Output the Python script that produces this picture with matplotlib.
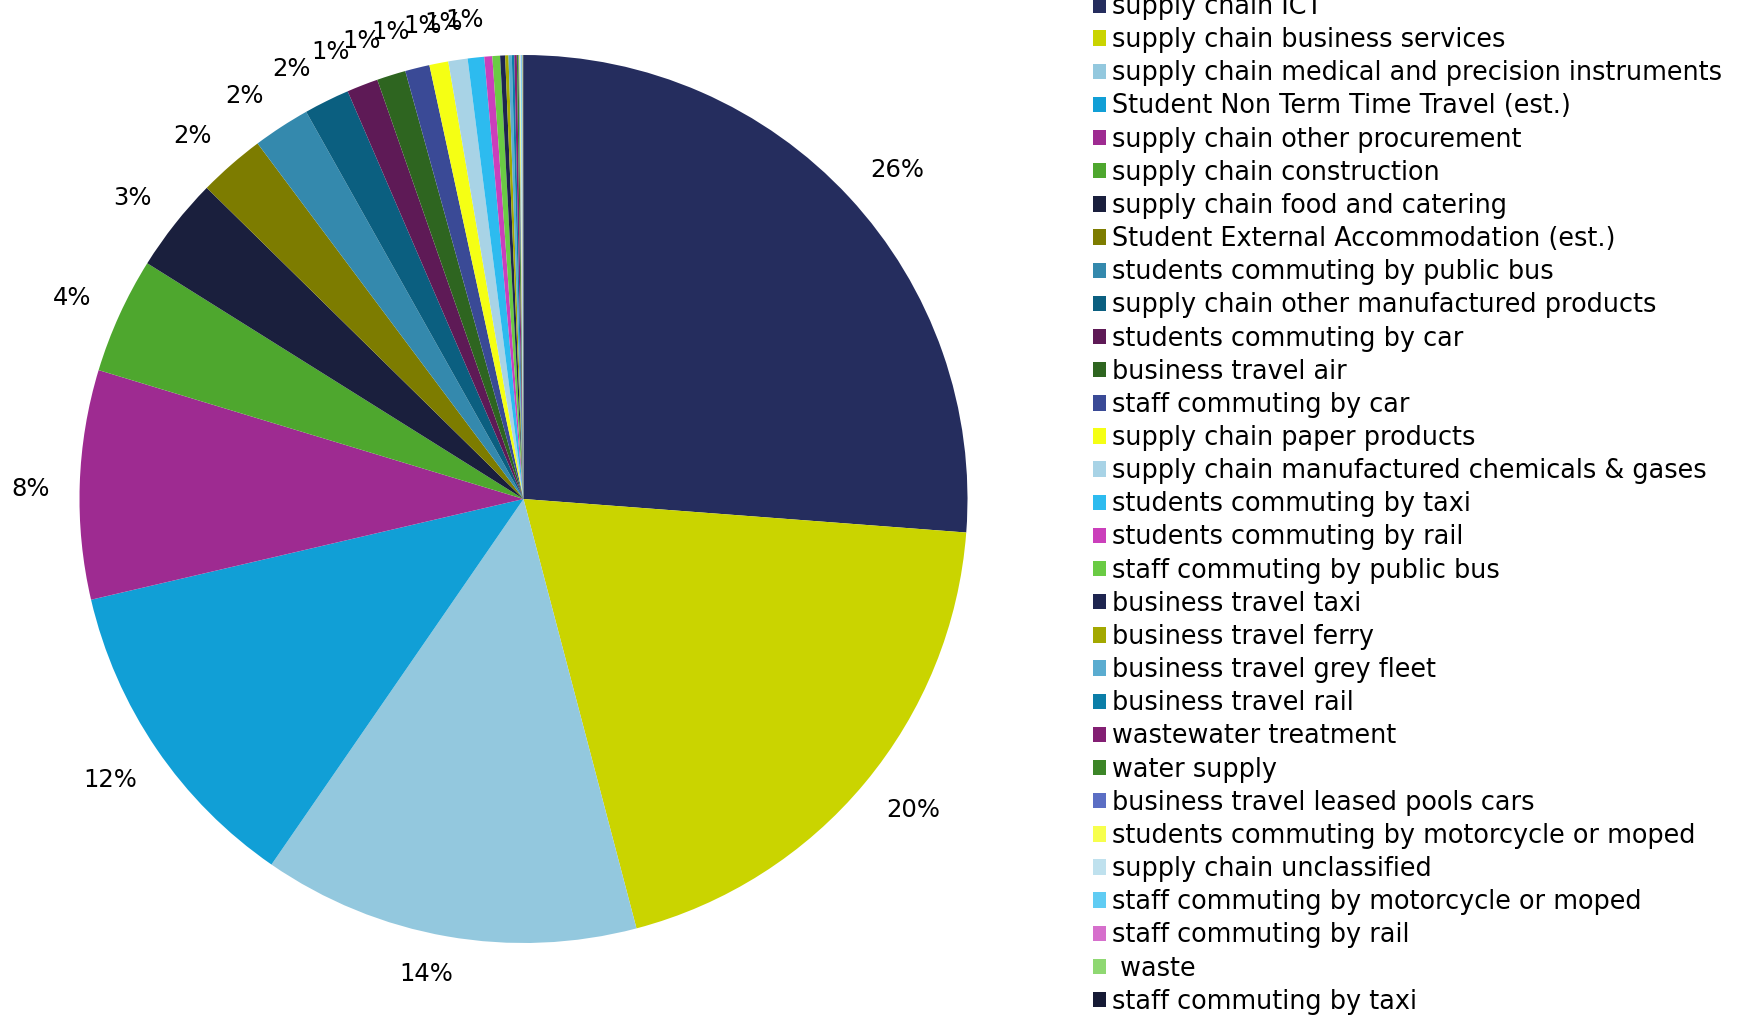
import numpy as np
import matplotlib
matplotlib.use("Agg")
import matplotlib.pyplot as plt

# Emission sources (share of total, %)
categories = [
    "supply chain ICT",
    "supply chain business services",
    "supply chain medical and precision instruments",
    "Student Non Term Time Travel (est.)",
    "supply chain other procurement",
    "supply chain construction",
    "supply chain food and catering",
    "Student External Accommodation (est.)",
    "students commuting by public bus",
    "supply chain other manufactured products",
    "students commuting by car",
    "business travel air",
    "staff commuting by car",
    "supply chain paper products",
    "supply chain manufactured chemicals & gases",
    "students commuting by taxi",
    "students commuting by rail",
    "staff commuting by public bus",
    "business travel taxi",
    "business travel ferry",
    "business travel grey fleet",
    "business travel rail",
    "wastewater treatment",
    "water supply",
    "business travel leased pools cars",
    "students commuting by motorcycle or moped",
    "supply chain unclassified",
    "staff commuting by motorcycle or moped",
    "staff commuting by rail",
    " waste",
    "staff commuting by taxi",
]
values = [26.2, 19.7, 13.7, 11.75, 8.33, 4.22, 3.45, 2.42, 2.08, 1.66,
          1.14, 1.05, 0.89, 0.69, 0.70, 0.60, 0.29, 0.28, 0.18, 0.12,
          0.12, 0.09, 0.09, 0.06, 0.03, 0.03, 0.03, 0.03, 0.02, 0.02, 0.02]
colors = [
    "#252d5e", "#cad400", "#93c8de", "#119fd6", "#9e2b91", "#4ea72e",
    "#1a1f3d", "#7d7c00", "#3489ad", "#0b5f80", "#5e1a56", "#2e6520",
    "#3a4a96", "#f5ff14", "#a8d3e6", "#2dbbef", "#cb3fbb", "#6acb44",
    "#1e2550", "#a3a800", "#5aacd0", "#0b7ea8", "#831f73", "#3c8527",
    "#5b6ec4", "#f7ff4d", "#bfe1ee", "#60ccf3", "#d66fcc", "#8fd872",
    "#161a35",
]

W, H = 1740, 1015
cx, cy, r_px = 523.5, 499, 444
fs_legend = 18.4
fs_label = 17.5

plt.rcParams['font.family'] = ['DejaVu Sans']
fig = plt.figure(figsize=(W / 100, H / 100), dpi=100)
ax = fig.add_axes([(cx - r_px) / W, (H - cy - r_px) / H, 2 * r_px / W, 2 * r_px / H])

wedges, _ = ax.pie(values, colors=colors, startangle=90, counterclock=False,
                   radius=1, wedgeprops=dict(linewidth=0))
ax.set_xlim(-1, 1)
ax.set_ylim(-1, 1)
ax.set_aspect('equal')
ax.axis('off')

# Percentage labels outside the slices (hidden when they round to 0%).
# Labels are nudged round the rim a little, the way Excel spreads crowded ones.
total = sum(values)
fig.canvas.draw()
renderer = fig.canvas.get_renderer()
gap = 30
nudge_at = [0, 6, 11, 14, 27, 33, 41, 52, 66, 88, 110, 124, 170, 200, 230, 270, 313, 360]
nudge_by = [0.9, 0.9, 1.1, 2.1, 2.0, 1.65, 1.15, 0.7, 0.5, 0.7, 0, 0, -1.6, 0, 1.2, 0, -1.5, 0]
for w, v in zip(wedges, values):
    pct = round(v / total * 100)
    if pct < 1:
        continue
    mid = (w.theta1 + w.theta2) / 2
    mid += np.interp((mid - 90) % 360, nudge_at, nudge_by)
    ang = np.deg2rad(mid)
    t = ax.text(0, 0, f"{pct}%", fontsize=fs_label, ha='center', va='center')
    bb = t.get_window_extent(renderer)
    ext = bb.width / 2 * abs(np.cos(ang)) + bb.height * 0.25 * abs(np.sin(ang))
    d = 1 + (gap + ext) / r_px
    t.set_position((d * np.cos(ang), d * np.sin(ang)))

fig.legend(wedges, categories, loc='upper left',
           bbox_to_anchor=(1093 / W, 1 + 6 / H), frameon=False,
           fontsize=fs_legend, borderpad=0, borderaxespad=0,
           handlelength=0.51, handleheight=0.55, handletextpad=0.25,
           labelspacing=0.28)

fig.savefig("out.png", dpi=100)
